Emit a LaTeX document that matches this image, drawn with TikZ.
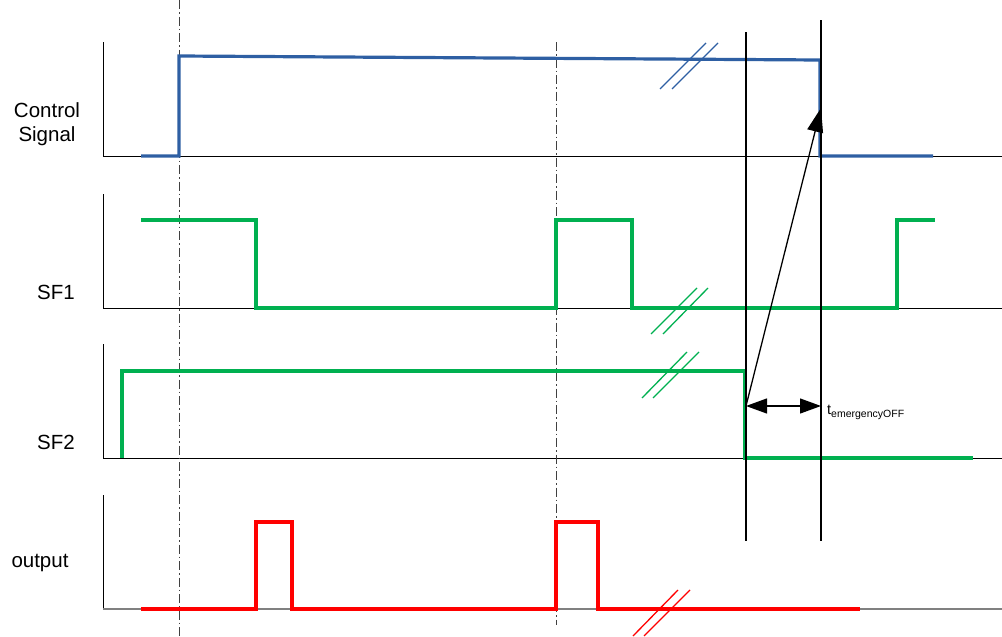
\documentclass[tikz,border=0pt]{standalone}
\usepackage{fontspec}
\setmainfont{Liberation Sans}
\usetikzlibrary{arrows.meta}
\definecolor{sigblue}{HTML}{2E5FA3}
\definecolor{siggreen}{HTML}{00B050}
\definecolor{sigred}{HTML}{FF0000}
\begin{document}
\begin{tikzpicture}[x=1pt,y=-1pt,
  axis/.style={black,line width=1pt},
  gaxis/.style={gray,line width=1.3pt},
  sigb/.style={sigblue,line width=3.2pt,line join=miter},
  sigg/.style={siggreen,line width=3.2pt,line join=miter},
  sigr/.style={sigred,line width=3.2pt,line join=miter},
  brk/.style={line width=1.3pt},
  marker/.style={black,line width=1.7pt},
  dashdot/.style={black!75,line width=0.9pt,dash pattern=on 9pt off 3pt on 1.5pt off 3pt},
  lab/.style={font=\fontsize{20.5}{24}\selectfont,align=center,inner sep=0pt}
  ]
\useasboundingbox (0,0) rectangle (1002,637);
% axes
\draw[axis] (103,42) -- (103,156) -- (1002,156);
\draw[axis] (103,194) -- (103,308) -- (1002,308);
\draw[axis] (103,344) -- (103,458) -- (1002,458);
\draw[axis] (103,495) -- (103,609);
\draw[gaxis] (103,609) -- (1002,609);
% labels
\node[lab] (lcs) at (47,124) {Control\\Signal};
\node[lab] (lsf1) at (56,292) {SF1};
\node[lab] (lsf2) at (56,442) {SF2};
\node[lab] (lout) at (40,563) {output};
% dash-dot lines
\draw[dashdot] (179,0) -- (179,637);
\draw[dashdot] (556,42) -- (556,625);
% signals
\draw[sigb] (141,156) -- (179,156) -- (179,56) -- (820,60) -- (820,156) -- (933,156);
\draw[sigg] (141,220) -- (256,220) -- (256,308) -- (556,308) -- (556,220) -- (632,220) -- (632,308) -- (897,308) -- (897,220) -- (935,220);
\draw[sigg] (122,458) -- (122,371) -- (745,371) -- (745,458) -- (973,458);
\draw[sigr] (141,609) -- (256,609) -- (256,522) -- (292,522) -- (292,609) -- (556,609) -- (556,522) -- (598,522) -- (598,609) -- (860,609);
% break marks
\draw[brk,sigblue] (660,89) -- (706,43) (672,89) -- (718,43);
\draw[brk,siggreen] (651,334) -- (697,288) (663,334) -- (708,288);
\draw[brk,siggreen] (642,398) -- (687,352) (653,398) -- (699,352);
\draw[brk,sigred] (633,636) -- (678,590) (644,636) -- (690,590);
% marker lines
\draw[marker] (746,32) -- (746,541);
\draw[marker] (821,20) -- (821,541);
\coordinate (a0) at (746,406);
\coordinate (a1) at (821,108);
\coordinate (b1) at (821,406);
\draw[black,line width=1.3pt,-{Triangle[length=24pt,width=16pt]}] (a0) -- (a1);
\draw[black,line width=1.2pt,{Triangle[length=21pt,width=15pt]}-{Triangle[length=21pt,width=15pt]}] (a0) -- (b1);
\node[anchor=base west,inner sep=0pt,font=\fontsize{14.5}{16}\selectfont] (tlab) at (827,414) {t\raisebox{-3pt}{\fontsize{10.5}{12}\selectfont emergencyOFF}};
\end{tikzpicture}
\end{document}
